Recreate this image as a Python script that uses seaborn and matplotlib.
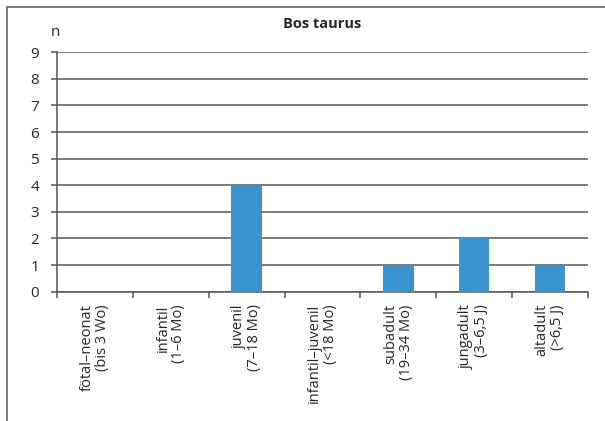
import matplotlib
matplotlib.use("Agg")
import matplotlib.pyplot as plt
import seaborn as sns
import pandas as pd
import numpy as np
from matplotlib.lines import Line2D

categories = ["fötal–neonat\n(bis 3 Wo)", "infantil\n(1–6 Mo)", "juvenil\n(7–18 Mo)",
              "infantil–juvenil\n(<18 Mo)", "subadult\n(19–34 Mo)", "jungadult\n(3–6,5 J)",
              "altadult\n(>6,5 J)"]
counts = [0, 0, 4, 0, 1, 2, 1]
yticks = list(range(0, 10))
title = "Bos taurus"
ylabel = "n"

sns.set_style("white")
plt.rcParams['font.family'] = ['Open Sans', 'DejaVu Sans']

df = pd.DataFrame({"cat": categories, "n": counts})

fig = plt.figure(figsize=(6.05, 4.21), dpi=100)
W, H = 605, 421
ax = fig.add_axes([57/W, 1-291.7/H, (588-57)/W, (291.7-52.3)/H])
sns.barplot(data=df, x="cat", y="n", order=categories, color="#3a93cd",
            width=0.4, saturation=1, ax=ax, zorder=3, linewidth=0, edgecolor="none")
ax.set_ylim(0, 9)
ax.set_xlim(-0.5, len(categories)-0.5)
ax.set_yticks(yticks)
ax.set_yticklabels([str(v) for v in yticks], fontsize=11)
ax.yaxis.grid(True, color="#555555", linewidth=1.1, zorder=0)
ax.set_axisbelow(True)
ax.set_xlabel("")
ax.set_ylabel("")
for s in ["top", "right"]:
    ax.spines[s].set_visible(False)
for s in ["left", "bottom"]:
    ax.spines[s].set_color("#555555")
    ax.spines[s].set_linewidth(1.1)
ax.tick_params(axis="y", length=4, width=1.1, color="#555555", pad=9, left=True)
ax.set_xticks(np.arange(len(categories)))
ax.set_xticklabels(categories, rotation=90, fontsize=10.5, ha="center", va="top",
                   multialignment="right", linespacing=1.05)
ax.tick_params(axis="x", length=0, pad=9)
ax.set_xticks(np.arange(-0.5, len(categories)), minor=True)
ax.tick_params(axis="x", which="minor", length=4, width=1.1, color="#555555", bottom=True)

fig.text(322/W, 1-24/H, title, ha="center", va="center", fontsize=10.5, fontweight="bold")
fig.text(55/W, 1-32/H, ylabel, ha="center", va="center", fontsize=11)

fig.add_artist(Line2D([7/W, 7/W], [0, 1-7/H], color="#666666", linewidth=1.2, transform=fig.transFigure))
fig.add_artist(Line2D([7/W, 1], [1-7/H, 1-7/H], color="#666666", linewidth=1.2, transform=fig.transFigure))

fig.savefig("out.png", dpi=100)
